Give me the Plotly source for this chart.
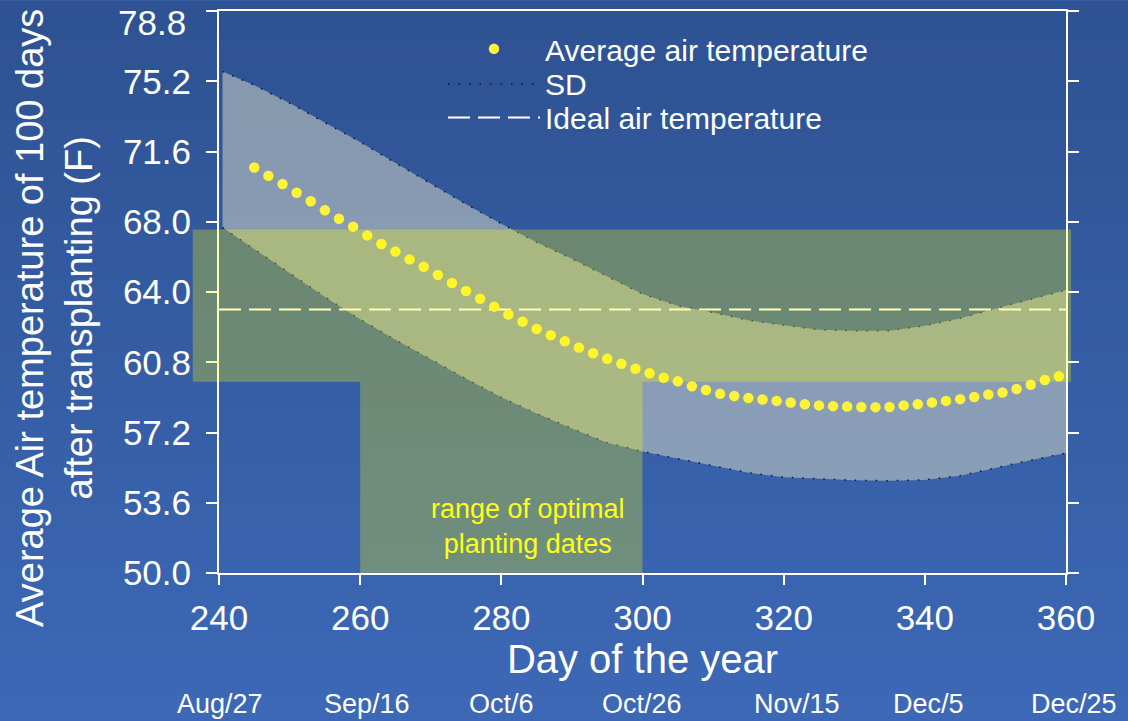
import plotly.graph_objects as go

# ---------------- data ----------------
mean_days = [245, 247, 249, 251, 253, 255, 257, 259, 261, 263, 265, 267, 269, 271, 273,
             275, 277, 279, 281, 283, 285, 287, 289, 291, 293, 295, 297, 299, 301, 303,
             305, 307, 309, 311, 313, 315, 317, 319, 321, 323, 325, 327, 329, 331, 333,
             335, 337, 339, 341, 343, 345, 347, 349, 351, 353, 355, 357, 359]
mean_temp = [70.78, 70.36, 69.93, 69.49, 69.05, 68.59, 68.15, 67.75, 67.30, 66.86,
             66.47, 66.07, 65.69, 65.27, 64.86, 64.45, 64.05, 63.65, 63.25, 62.88,
             62.50, 62.18, 61.87, 61.55, 61.26, 60.98, 60.72, 60.47, 60.24, 60.01,
             59.82, 59.57, 59.38, 59.18, 59.07, 58.97, 58.89, 58.82, 58.74, 58.65,
             58.59, 58.55, 58.53, 58.51, 58.50, 58.51, 58.59, 58.65, 58.74, 58.82,
             58.91, 59.02, 59.15, 59.25, 59.43, 59.65, 59.89, 60.08]

sd_days = [240.5, 245, 250, 255, 260, 265, 270, 275, 280, 285, 290, 295, 300,
           305, 310, 315, 320, 325, 330, 335, 340, 345, 350, 355, 360]
sd_upper = [75.7, 75.0, 74.08, 73.08, 72.09, 71.01, 69.95, 68.9, 67.9, 66.95, 66.1, 65.2,
            64.3, 63.7, 63.35, 62.95, 62.7, 62.46, 62.42, 62.42, 62.67, 63.05, 63.55,
            64.02, 64.5]
sd_lower = [67.7, 66.6, 65.4, 64.15, 63.0, 61.95, 60.95, 59.95, 59.0, 58.17, 57.41, 56.68,
            56.22, 55.86, 55.5, 55.14, 54.91, 54.83, 54.75, 54.73, 54.77, 54.99, 55.4,
            55.78, 56.15]

ideal_days = [240, 360]
ideal_temp = [63.5, 63.5]

ideal_range = [59.8, 67.6]          # horizontal band (F)
planting_window = [260, 300]        # optimal planting days

y_tickvals = [50.0, 53.6, 57.2, 60.8, 64.4, 68.0, 71.6, 75.2, 78.8]
y_ticktext = ["50.0", "53.6", "57.2", "60.8", "64.0", "68.0", "71.6", "75.2", ""]
top_tick_label = "78.8"
x_tickvals = [240, 260, 280, 300, 320, 340, 360]
date_labels = ["Aug/27", "Sep/16", "Oct/6", "Oct/26", "Nov/15", "Dec/5", "Dec/25"]
date_label_shift = [1, 7, 0, -1, 13, 4, 8]

FONT = "Liberation Sans, Arial, sans-serif"
W, H = 1128, 721
ML, MR, MT, MB = 219, 62, 9, 148
PW, PH = W - ML - MR, H - MT - MB
PLOT_BOTTOM = H - MB


def py(px):
    """pixel row -> paper y"""
    return (PLOT_BOTTOM - px) / PH


def pxx(px):
    """pixel column -> paper x"""
    return (px - ML) / PW


fig = go.Figure()

# SD band
fig.add_trace(go.Scatter(x=sd_days, y=sd_upper, mode="lines", name="SD",
                         line=dict(color="#0d1526", width=1.5, dash="1.5px,9px"),
                         legend="legend2", hoverinfo="skip"))
fig.add_trace(go.Scatter(x=sd_days, y=sd_lower, mode="lines", name="SD lower",
                         line=dict(color="#0d1526", width=1.5, dash="1.5px,9px"),
                         fill="tonexty", fillcolor="rgba(205,210,195,0.55)",
                         showlegend=False, hoverinfo="skip"))
# Ideal line
fig.add_trace(go.Scatter(x=ideal_days, y=ideal_temp, mode="lines",
                         name="Ideal air temperature",
                         line=dict(color="white", width=2, dash="22px,8px"),
                         legend="legend3"))
# Mean
fig.add_trace(go.Scatter(x=mean_days, y=mean_temp, mode="markers",
                         name="Average air temperature",
                         marker=dict(color="#fff23a", size=10.5),
                         legend="legend"))

shapes = []
# background gradient
n = 60
top = (46, 82, 146)
bot = (60, 104, 182)
y_top = 1 + MT / PH
y_bot = -MB / PH
for i in range(n):
    t = i / (n - 1)
    c = tuple(round(top[k] + (bot[k] - top[k]) * t) for k in range(3))
    y1 = y_top - (y_top - y_bot) * i / n + 0.002
    y0 = y_top - (y_top - y_bot) * (i + 1) / n - 0.002
    shapes.append(dict(type="rect", xref="paper", yref="paper",
                       x0=-ML / PW - 0.01, x1=1 + MR / PW + 0.01, y0=y0, y1=y1,
                       fillcolor="rgb(%d,%d,%d)" % c, line=dict(width=0), layer="below"))

overlay = "rgba(255,255,0,0.28)"
shapes.append(dict(type="rect", xref="x domain", yref="y",
                   x0=-0.031, x1=1.006, y0=ideal_range[0], y1=ideal_range[1],
                   fillcolor=overlay, line=dict(width=0), layer="above"))
shapes.append(dict(type="rect", xref="x", yref="y",
                   x0=planting_window[0], x1=planting_window[1], y0=49.9, y1=ideal_range[0],
                   fillcolor=overlay, line=dict(width=0), layer="above"))

annotations = []
for d, lab, sh in zip(x_tickvals, date_labels, date_label_shift):
    annotations.append(dict(x=d, xref="x", y=py(704), yref="paper",
                            text=lab, showarrow=False, xshift=sh,
                            xanchor="center", yanchor="middle",
                            font=dict(family=FONT, size=27, color="white")))

annotations.append(dict(x=pxx(188), xref="paper", y=py(21), yref="paper",
                        text=top_tick_label, showarrow=False,
                        xanchor="right", yanchor="middle",
                        font=dict(family=FONT, size=35, color="white")))

annotations.append(dict(x=283.8, xref="x", y=52.4, yref="y",
                        text="range of optimal<br>planting dates", showarrow=False,
                        font=dict(family=FONT, size=27, color="#ffff1a"),
                        xanchor="center", yanchor="middle"))
annotations.append(dict(x=pxx(55), xref="paper", y=py(317), yref="paper",
                        text="Average Air temperature of 100 days<br>after transplanting (F)",
                        textangle=-90, showarrow=False,
                        font=dict(family=FONT, size=38, color="white"),
                        xanchor="center", yanchor="middle"))

leg_common = dict(xanchor="left", yanchor="middle", bgcolor="rgba(0,0,0,0)",
                  font=dict(family=FONT, size=30, color="white"), itemwidth=92)
LEG_X = pxx(443)

fig.update_layout(
    width=W, height=H,
    margin=dict(l=ML, r=MR, t=MT, b=MB),
    paper_bgcolor="#3560a8", plot_bgcolor="rgba(0,0,0,0)",
    font=dict(family=FONT, color="white"),
    shapes=shapes, annotations=annotations,
    showlegend=True,
    legend=dict(x=LEG_X, y=py(47), **leg_common),
    legend2=dict(x=LEG_X, y=py(82), **leg_common),
    legend3=dict(x=LEG_X, y=py(116), **leg_common),
    xaxis=dict(range=[240, 360], tickvals=x_tickvals, showgrid=False, zeroline=False,
               showline=True, linecolor="white", linewidth=2, mirror=True,
               ticks="outside", ticklen=10, tickwidth=2, tickcolor="white",
               ticklabeloverflow="allow", ticklabelstandoff=3,
               tickfont=dict(family=FONT, size=35, color="white"),
               title=dict(text="Day of the year", font=dict(family=FONT, size=40, color="white"),
                          standoff=8)),
    yaxis=dict(range=[50, 78.8], tickvals=y_tickvals, ticktext=y_ticktext, showgrid=False,
               zeroline=False, showline=True, linecolor="white", linewidth=2, mirror="ticks",
               ticks="outside", ticklen=11, tickwidth=2, tickcolor="white",
               ticklabelstandoff=8, ticklabeloverflow="allow",
               tickfont=dict(family=FONT, size=35, color="white")),
)

fig.write_html("out.html", config={"displayModeBar": False},
               post_script="document.body.style.margin='0px';")
